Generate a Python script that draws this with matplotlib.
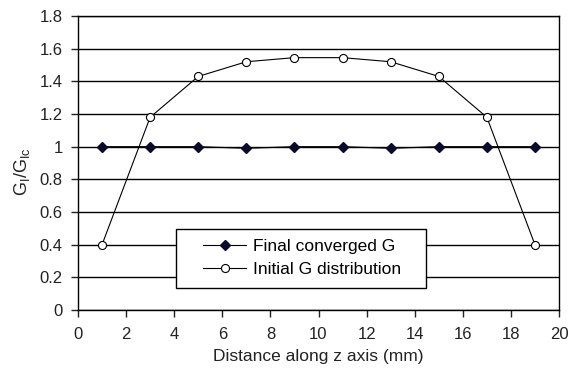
import matplotlib.pyplot as plt
from matplotlib.patches import Rectangle
import numpy as np

plt.rcParams['font.family'] = ['Liberation Sans', 'DejaVu Sans']

z = [1, 3, 5, 7, 9, 11, 13, 15, 17, 19]
final_g = [1.0, 1.0, 1.0, 0.99, 1.0, 1.0, 0.99, 1.0, 1.0, 1.0]
initial_g = [0.40, 1.18, 1.43, 1.52, 1.545, 1.545, 1.52, 1.43, 1.18, 0.40]
xticks = np.arange(0, 21, 2)
yticks = np.arange(0, 1.81, 0.2)

fig = plt.figure(figsize=(5.68, 3.77), dpi=100)
ax = fig.add_axes([78 / 568, 1 - 310 / 377, 481 / 568, 294 / 377])

ax.plot(z, final_g, color='black', lw=0.8, marker='D', ms=5.5,
        mfc='#0a0a2a', mec='#0a0a2a', label='Final converged G', zorder=3)
ax.plot(z, initial_g, color='black', lw=0.8, marker='o', ms=5.8,
        mfc='white', mec='black', mew=0.8, label='Initial G distribution', zorder=3)

ax.set_xlim(0, 20)
ax.set_ylim(0, 1.8)
ax.set_xticks(xticks)
ax.set_yticks(yticks)
ax.set_yticklabels(['0', '0.2', '0.4', '0.6', '0.8', '1', '1.2', '1.4', '1.6', '1.8'])
ax.grid(axis='y', color='black', lw=1)
ax.set_axisbelow(True)
for s in ax.spines.values():
    s.set_linewidth(1)
ax.tick_params(direction='out', length=5, width=1, labelsize=12, colors='#222222')
ax.tick_params(axis='x', pad=7)
ax.tick_params(axis='y', pad=6)

ax.set_xlabel('Distance along z axis (mm)', fontsize=12.5, labelpad=5, color='#222222')
ax.set_ylabel(r'G$_{\mathregular{I}}$/G$_{\mathregular{Ic}}$', fontsize=13, color='#222222')
ax.yaxis.set_label_coords(-0.095, 0.47)

# legend box drawn separately so the entries sit centred in a wider frame
box = Rectangle((0.204, 0.075), 0.519, 0.201, transform=ax.transAxes,
                facecolor='white', edgecolor='black', lw=1, zorder=4)
ax.add_patch(box)
leg = ax.legend(loc='center', bbox_to_anchor=(0.466, 0.1755), frameon=False,
                fontsize=12.5, handlelength=2.5, labelspacing=0.45,
                handletextpad=0.4, borderaxespad=0)
leg.set_zorder(5)

fig.savefig('out.png', dpi=100)
